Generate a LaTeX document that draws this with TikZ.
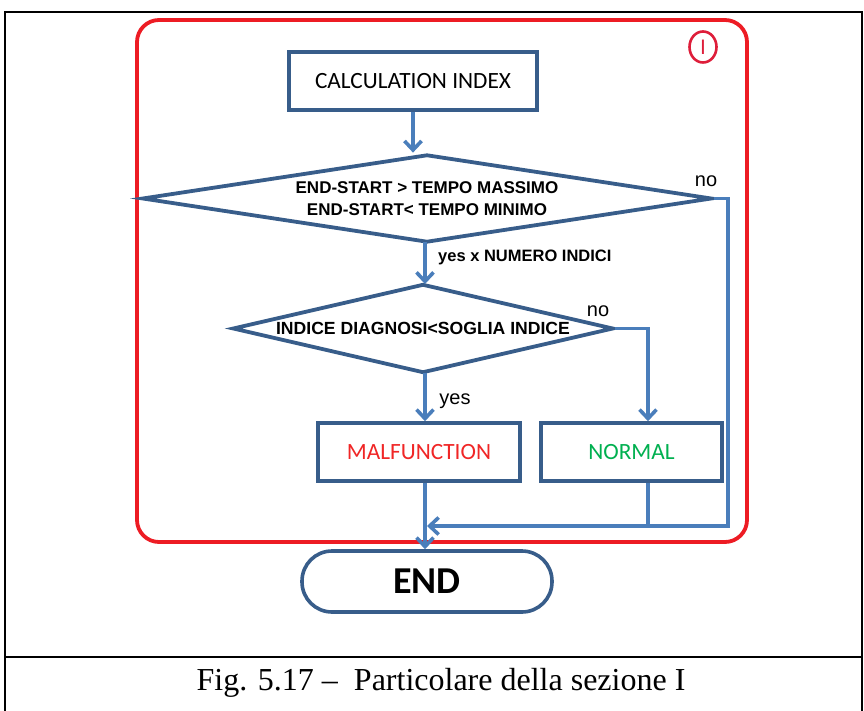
\documentclass[tikz,border=0pt]{standalone}
\usepackage{fontspec}
\setmainfont{Liberation Serif}
\newfontfamily\calibri{Carlito}
\newfontfamily\arial{Liberation Sans}
\usetikzlibrary{shapes.geometric,arrows.meta}

\definecolor{boxblue}{RGB}{56,93,138}
\definecolor{arrowblue}{RGB}{74,126,187}
\definecolor{framered}{RGB}{237,28,36}
\definecolor{circred}{RGB}{222,30,58}
\definecolor{malfred}{RGB}{240,38,38}
\definecolor{normgreen}{RGB}{0,176,80}

\begin{document}
\begin{tikzpicture}[x=1pt, y=-1pt,
  box/.style={rectangle, draw=boxblue, line width=3.6pt, fill=white, inner sep=0pt,
    minimum height=58pt, font=\calibri\fontsize{23.3}{27}\selectfont},
  test/.style={diamond, draw=boxblue, line width=3.8pt, fill=white, inner sep=0pt,
    align=center, font=\arial\bfseries\fontsize{17}{22}\selectfont},
  flow/.style={draw=arrowblue, line width=3.6pt},
  tip/.style={flow, -{Straight Barb[length=9pt,width=17pt]}},
  lbl/.style={inner sep=0pt, font=\arial\fontsize{20}{24}\selectfont}]
  \useasboundingbox (0,0) rectangle (864,711);

  % table frame and caption
  \draw[line width=2pt] (5,715) -- (5,12) -- (862,12) -- (862,715);
  \draw[line width=2pt] (5,657) -- (862,657);
  \node[inner sep=0pt, font=\fontsize{32}{36}\selectfont] (caption) at (441,683)
    {Fig. 5.17 --\ \ Particolare della sezione I};

  % section I
  \draw[framered, line width=3.8pt, rounded corners=22pt] (137,20) rectangle (747,542);
  \node[ellipse, draw=circred, line width=2.6pt, minimum width=27pt, minimum height=31pt,
    inner sep=0pt, text=circred, font=\arial\fontsize{21}{21}\selectfont] (sec) at (703,47) {I};

  % blocks
  \node[box, minimum width=248pt] (calc) at (413,81) {CALCULATION INDEX};
  \node[test, minimum width=570pt, minimum height=88pt, aspect=6.5] (check) at (427,198.5)
    {END-START > TEMPO MASSIMO\\END-START< TEMPO MINIMO};
  \node[test, minimum width=381pt, minimum height=89pt, aspect=4.3,
    font=\arial\bfseries\fontsize{17.6}{22}\selectfont] (soglia) at (423,328.5)
    {INDICE DIAGNOSI<SOGLIA INDICE};
  \node[box, minimum width=202pt, text=malfred] (malf) at (419,452) {MALFUNCTION};
  \node[box, minimum width=181pt, text=normgreen] (norm) at (631.5,452) {NORMAL};
  \node[rectangle, rounded corners=30pt, draw=boxblue, line width=3.6pt, fill=white,
    minimum width=250pt, minimum height=61pt,
    font=\calibri\bfseries\fontsize{38}{42}\selectfont] (end) at (427,581.5) {END};
  \coordinate (join) at (427,526);

  % labels
  \node[lbl] (no1) at (706,181) {no};
  \node[lbl] (no2) at (598,311) {no};
  \node[lbl] (yes) at (455,401) {yes};
  \node[lbl, anchor=west, font=\arial\bfseries\fontsize{16.5}{18}\selectfont] (count) at (438,257)
    {yes x NUMERO INDICI};

  % connectors
  \draw[tip] (calc.south) -- (calc.south |- check.north);
  \draw[tip] (425,242.5) -- (425,284);
  \draw[tip] (425,373) -- (malf.north -| 425,0);
  \draw[tip] (soglia.east) -| ([xshift=16.5pt]norm.north);
  \draw[tip] (check.east) -- (728,198.5) |- (join);
  \draw[flow] ([xshift=16.5pt]norm.south) -- ([xshift=16.5pt]norm.south |- join);
  \draw[tip] (malf.south -| 425,0) -- (end.north -| 425,0);
\end{tikzpicture}
\end{document}
